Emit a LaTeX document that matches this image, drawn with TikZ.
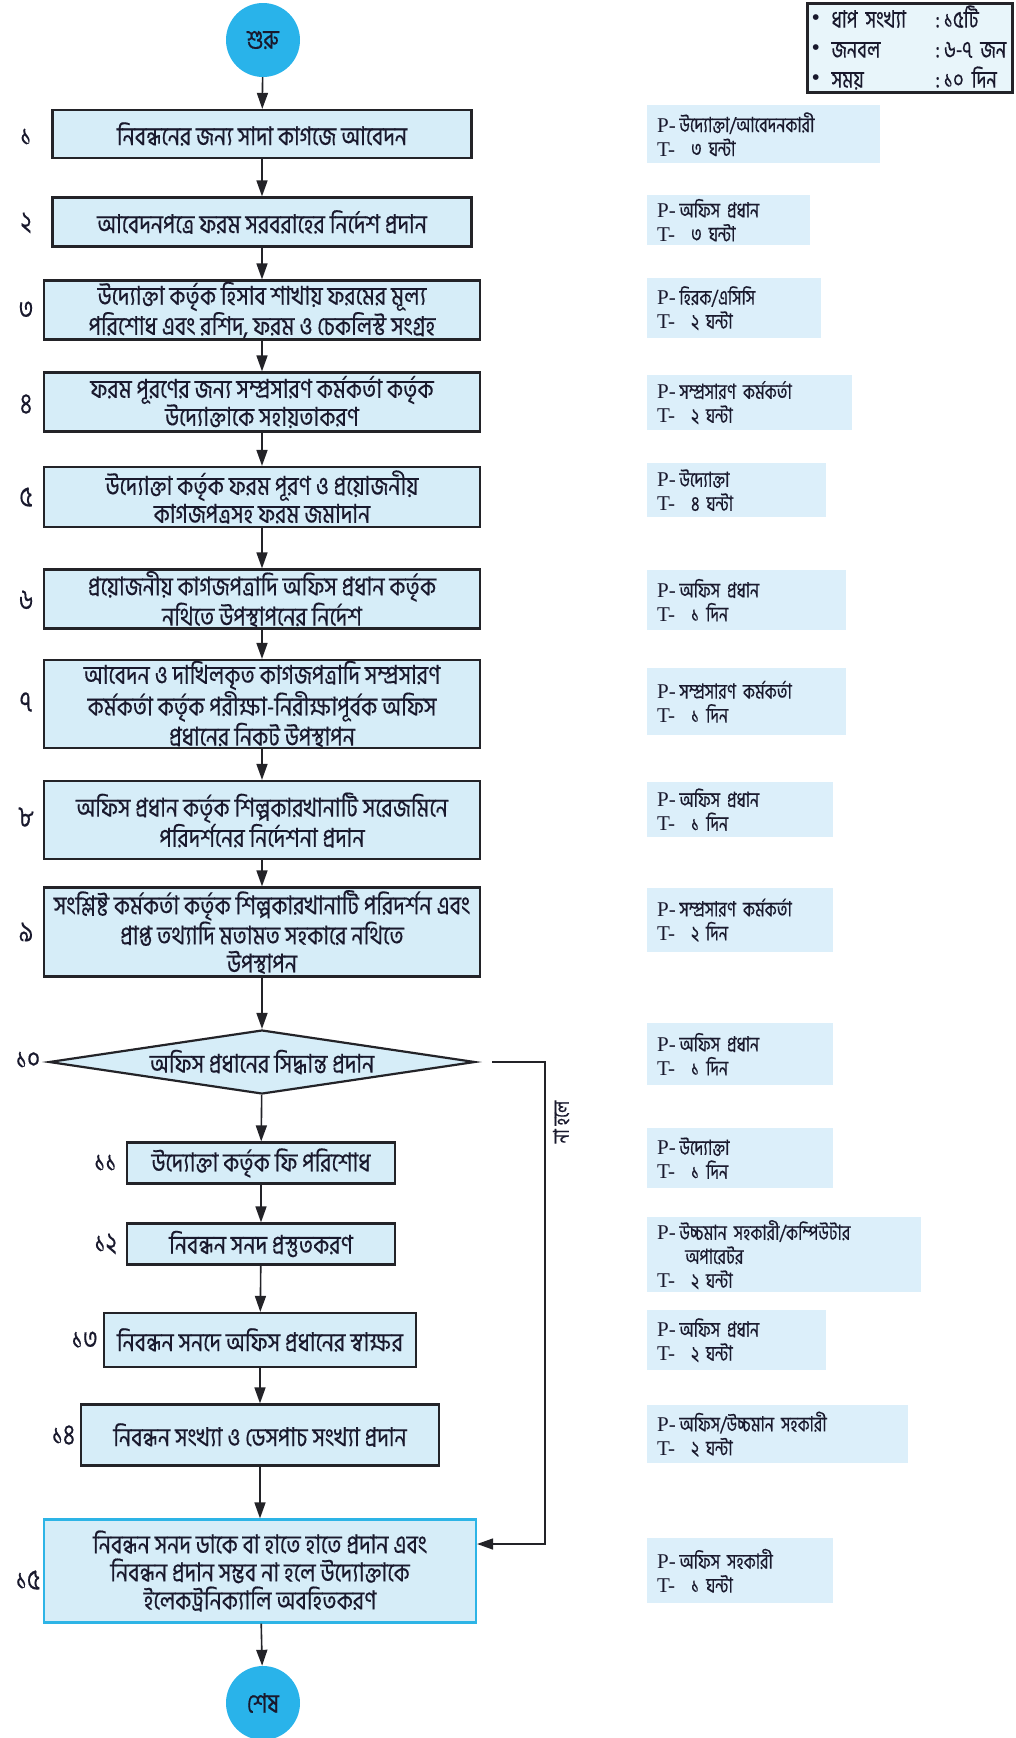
\documentclass[tikz,border=0pt]{standalone}
\usepackage{fontspec}
\setmainfont{Liberation Serif}
\newfontfamily\bn[Script=Bengali,FakeStretch=0.77,FakeBold=0.4]{Hind Siliguri}
\newfontfamily\bnb[Script=Bengali,FakeStretch=0.83,FakeBold=0.4]{Hind Siliguri}
\usetikzlibrary{shapes.geometric,arrows.meta}
\definecolor{boxfill}{RGB}{214,237,248}
\definecolor{ptfill}{RGB}{220,239,250}
\definecolor{legfill}{RGB}{232,245,250}
\definecolor{boxline}{RGB}{35,35,40}
\definecolor{circfill}{RGB}{41,179,234}
\definecolor{cyanline}{RGB}{45,180,230}
\definecolor{txt}{RGB}{25,25,45}
\newcommand\PTlines[2]{{\rmfamily P-}\,{\bn #1}\\{\rmfamily T-}\hspace{16pt}{\bn #2}}
\newcommand\legline[2]{\makebox[20pt][l]{\rmfamily\fontsize{24pt}{24pt}\selectfont\raisebox{2pt}{\textbullet}}\makebox[104pt][l]{#1}:\hspace{4pt}\rlap{#2}}
\begin{document}
\begin{tikzpicture}[x=1pt,y=-1pt,
  box/.style={draw=boxline, line width=2.2pt, fill=boxfill, align=center, inner sep=0pt, text=txt,
    font=\bnb\fontsize{26pt}{28pt}\selectfont},
  numlab/.style={text=txt, font=\bn\fontsize{29pt}{28pt}\selectfont, inner sep=0pt},
  ptbox/.style={fill=ptfill, anchor=north west, align=left, inner xsep=10pt, inner ysep=0pt, text=txt,
    font=\fontsize{21pt}{24pt}\selectfont},
  circ/.style={circle, fill=circfill, minimum size=74pt, inner sep=0pt, text=txt,
    font=\bn\fontsize{27pt}{27pt}\selectfont},
  arr/.style={line width=1.6pt, draw=boxline, -{Triangle[length=16pt,width=11pt]}}]
\useasboundingbox (0,0) rectangle (1015,1738);

% legend
\node[draw=boxline, line width=3pt, fill=legfill, anchor=north west, minimum width=205pt, minimum height=89pt,
  align=left, inner xsep=4pt, inner ysep=0pt, text width=197pt, text=txt, font=\bn\fontsize{24pt}{30pt}\selectfont] (leg) at (806,1.5)
  {\legline{ধাপ সংখ্যা}{১৫টি}\\
   \legline{জনবল}{৬-৭ জন}\\
   \legline{সময়}{১০ দিন}};

% start / end
\node[circ] (start) at (263,40) {শুরু};
\node[circ] (stop) at (263,1703) {শেষ};

% process boxes
\node[box, minimum width=419pt, minimum height=48pt] (b1) at (262,134) {নিবন্ধনের জন্য সাদা কাগজে আবেদন};
\node[box, minimum width=419pt, minimum height=49pt] (b2) at (262,222) {আবেদনপত্রে ফরম সরবরাহের নির্দেশ প্রদান};
\node[box, minimum width=436pt, minimum height=59pt] (b3) at (262,310) {উদ্যোক্তা কর্তৃক হিসাব শাখায় ফরমের মূল্য\\পরিশোধ এবং রশিদ, ফরম ও চেকলিস্ট সংগ্রহ};
\node[box, minimum width=436pt, minimum height=59pt] (b4) at (262,402) {ফরম পূরণের জন্য সম্প্রসারণ কর্মকর্তা কর্তৃক\\উদ্যোক্তাকে সহায়তাকরণ};
\node[box, minimum width=436pt, minimum height=60pt] (b5) at (262,497) {উদ্যোক্তা কর্তৃক ফরম পূরণ ও প্রয়োজনীয়\\কাগজপত্রসহ ফরম জমাদান};
\node[box, minimum width=436pt, minimum height=59pt] (b6) at (262,599) {প্রয়োজনীয় কাগজপত্রাদি অফিস প্রধান কর্তৃক\\নথিতে উপস্থাপনের নির্দেশ};
\node[box, minimum width=436pt, minimum height=88pt] (b7) at (262,704) {আবেদন ও দাখিলকৃত কাগজপত্রাদি সম্প্রসারণ\\কর্মকর্তা কর্তৃক পরীক্ষা-নিরীক্ষাপূর্বক অফিস\\প্রধানের নিকট উপস্থাপন};
\node[box, minimum width=436pt, minimum height=78pt] (b8) at (262,820) {অফিস প্রধান কর্তৃক শিল্পকারখানাটি সরেজমিনে\\পরিদর্শনের নির্দেশনা প্রদান};
\node[box, minimum width=436pt, minimum height=89pt] (b9) at (262,932) {সংশ্লিষ্ট কর্মকর্তা কর্তৃক শিল্পকারখানাটি পরিদর্শন এবং\\প্রাপ্ত তথ্যাদি মতামত সহকারে নথিতে\\উপস্থাপন};
\node[box, diamond, aspect=6.6, minimum width=426pt, minimum height=64pt] (d10) at (262,1062) {অফিস প্রধানের সিদ্ধান্ত প্রদান};
\node[box, minimum width=268pt, minimum height=41pt] (b11) at (261,1163) {উদ্যোক্তা কর্তৃক ফি পরিশোধ};
\node[box, minimum width=268pt, minimum height=41pt] (b12) at (261,1244) {নিবন্ধন সনদ প্রস্তুতকরণ};
\node[box, minimum width=312pt, minimum height=54pt] (b13) at (260,1340) {নিবন্ধন সনদে অফিস প্রধানের স্বাক্ষর};
\node[box, minimum width=358pt, minimum height=61pt] (b14) at (260,1435) {নিবন্ধন সংখ্যা ও ডেসপাচ সংখ্যা প্রদান};
\node[box, draw=cyanline, minimum width=432pt, minimum height=103pt] (b15) at (260,1571) {নিবন্ধন সনদ ডাকে বা হাতে হাতে প্রদান এবং\\নিবন্ধন প্রদান সম্ভব না হলে উদ্যোক্তাকে\\ইলেকট্রনিক্যালি অবহিতকরণ};

% step numbers
\node[numlab] (n1) at (26,137) {১};
\node[numlab] (n2) at (26,223) {২};
\node[numlab] (n3) at (26,310) {৩};
\node[numlab] (n4) at (26,404) {৪};
\node[numlab] (n5) at (26,497) {৫};
\node[numlab] (n6) at (26,600) {৬};
\node[numlab] (n7) at (26,702) {৭};
\node[numlab] (n8) at (26,817) {৮};
\node[numlab] (n9) at (26,932) {৯};
\node[numlab] (n10) at (28,1060) {১০};
\node[numlab, anchor=east] (n11) at ([xshift=-9pt]b11.west) {১১};
\node[numlab, anchor=east] (n12) at ([xshift=-9pt]b12.west) {১২};
\node[numlab, anchor=east] (n13) at ([xshift=-5pt]b13.west) {১৩};
\node[numlab, anchor=east] (n14) at ([xshift=-5pt]b14.west) {১৪};
\node[numlab] (n15) at (28,1580) {১৫};

% P/T boxes
\node[ptbox, text width=213pt, minimum height=58pt] (p1) at (647,105) {\PTlines{উদ্যোক্তা/আবেদনকারী}{৩ ঘন্টা}};
\node[ptbox, text width=143pt, minimum height=50pt] (p2) at (647,195) {\PTlines{অফিস প্রধান}{৩ ঘন্টা}};
\node[ptbox, text width=154pt, minimum height=60pt] (p3) at (647,278) {\PTlines{হিরক/এসিসি}{২ ঘন্টা}};
\node[ptbox, text width=185pt, minimum height=55pt] (p4) at (647,375) {\PTlines{সম্প্রসারণ কর্মকর্তা}{২ ঘন্টা}};
\node[ptbox, text width=159pt, minimum height=54pt] (p5) at (647,463) {\PTlines{উদ্যোক্তা}{৪ ঘন্টা}};
\node[ptbox, text width=179pt, minimum height=60pt] (p6) at (647,570) {\PTlines{অফিস প্রধান}{১ দিন}};
\node[ptbox, text width=179pt, minimum height=67pt] (p7) at (647,668) {\PTlines{সম্প্রসারণ কর্মকর্তা}{১ দিন}};
\node[ptbox, text width=166pt, minimum height=55pt] (p8) at (647,782) {\PTlines{অফিস প্রধান}{১ দিন}};
\node[ptbox, text width=166pt, minimum height=64pt] (p9) at (647,888) {\PTlines{সম্প্রসারণ কর্মকর্তা}{২ দিন}};
\node[ptbox, text width=166pt, minimum height=62pt] (p10) at (647,1023) {\PTlines{অফিস প্রধান}{১ দিন}};
\node[ptbox, text width=166pt, minimum height=60pt] (p11) at (647,1128) {\PTlines{উদ্যোক্তা}{১ দিন}};
\node[ptbox, text width=254pt, minimum height=75pt] (p12) at (647,1217)
  {{\rmfamily P-}\,{\bn উচ্চমান সহকারী/কম্পিউটার}\\\hspace{28pt}{\bn অপারেটর}\\{\rmfamily T-}\hspace{16pt}{\bn ২ ঘন্টা}};
\node[ptbox, text width=159pt, minimum height=60pt] (p13) at (647,1310) {\PTlines{অফিস প্রধান}{২ ঘন্টা}};
\node[ptbox, text width=241pt, minimum height=58pt] (p14) at (647,1405) {\PTlines{অফিস/উচ্চমান সহকারী}{২ ঘন্টা}};
\node[ptbox, text width=166pt, minimum height=65pt] (p15) at (647,1538) {\PTlines{অফিস সহকারী}{১ ঘন্টা}};

% connectors
\draw[arr] (start) -- (b1);
\draw[arr] (b1) -- (b2);
\draw[arr] (b2) -- (b3);
\draw[arr] (b3) -- (b4);
\draw[arr] (b4) -- (b5);
\draw[arr] (b5) -- (b6);
\draw[arr] (b6) -- (b7);
\draw[arr] (b7) -- (b8);
\draw[arr] (b8) -- (b9);
\draw[arr] (b9) -- (d10);
\draw[arr] (d10) -- (b11);
\draw[arr] (b11) -- (b12);
\draw[arr] (b12) -- (b13);
\draw[arr] (b13) -- (b14);
\draw[arr] (b14) -- (b15);
\draw[arr] (b15) -- (stop);
\coordinate (nocorner) at (545,1544);
\draw[arr] ([xshift=16pt]d10.east) -| (nocorner) -- ([yshift=27pt]b15.east);
\node[rotate=90, text=txt, font=\bn\fontsize{22pt}{22pt}\selectfont, inner sep=0pt] (nolab) at (561,1122) {না হলে};
\end{tikzpicture}
\end{document}
